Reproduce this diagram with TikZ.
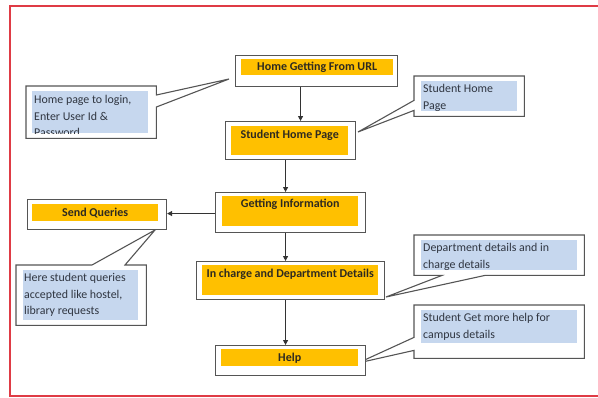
\documentclass[tikz,border=0pt]{standalone}
\usepackage{fontspec}
\setmainfont{Carlito}
\usetikzlibrary{arrows.meta,calc}

\definecolor{frame}{HTML}{DF3B45}
\definecolor{amber}{HTML}{FFC000}
\definecolor{paleblue}{HTML}{C6D7EE}
\definecolor{outline}{HTML}{555555}
\definecolor{ink}{HTML}{2E2A20}
\definecolor{noteink}{HTML}{2F3540}

\tikzset{
  x=1pt, y=-1pt,
  stepbox/.style={draw=outline, line width=1.1pt, fill=white, rectangle,
    anchor=north west, inner sep=0pt},
  amberbar/.style={fill=amber, rectangle, anchor=north west, inner sep=0pt},
  steplabel/.style={font=\fontsize{12}{14}\selectfont\bfseries, text=ink,
    anchor=base, inner sep=0pt},
  shape box/.style={rectangle, anchor=north west, inner sep=0pt},
  callout/.style={draw=outline, line width=1.1pt, fill=white, line join=miter},
  notefill/.style={fill=paleblue, rectangle, anchor=north west, inner sep=0pt},
  notetext/.style={font=\fontsize{11.9}{16.6}\selectfont, text=noteink,
    anchor=north west, align=left, inner sep=0pt},
  arr/.style={draw=black!80, line width=1pt,
    -{Triangle[length=5pt,width=5pt]}},
}

\begin{document}
\begin{tikzpicture}
\useasboundingbox (0,0) rectangle (598,397);

% page frame
\draw[frame, line width=1.2pt] (598,6) -- (10,6) -- (10,396) -- (598,396);

% ---- callout outlines (rectangle plus wedge pointer) ----
% login note
\node[shape box, minimum width=130pt, minimum height=52pt] (cLogin) at (26,86) {};
\coordinate (tLogin) at (229,79);
\path[callout] (cLogin.north west) -- (cLogin.north east)
  -- ([yshift=-9pt]cLogin.north east) -- (tLogin)
  -- ([yshift=-21pt]cLogin.north east) -- (cLogin.south east)
  -- (cLogin.south west) -- cycle;

% student home note
\node[shape box, minimum width=110pt, minimum height=40pt] (cHome) at (414,76) {};
\coordinate (tHome) at (358,132);
\path[callout] (cHome.north west) -- (cHome.north east) -- (cHome.south east)
  -- (cHome.south west) -- ([yshift=6pt]cHome.south west) -- (tHome)
  -- ([yshift=16pt]cHome.south west) -- cycle;

% queries note
\node[shape box, minimum width=130pt, minimum height=60pt] (cQuery) at (16,265) {};
\coordinate (tQuery) at (155,230);
\path[callout] (cQuery.north west) -- ([xshift=76pt]cQuery.north west) -- (tQuery)
  -- ([xshift=109pt]cQuery.north west) -- (cQuery.north east)
  -- (cQuery.south east) -- (cQuery.south west) -- cycle;

% department note
\node[shape box, minimum width=170pt, minimum height=40pt] (cDept) at (414,235) {};
\coordinate (tDept) at (386,297);
\path[callout] (cDept.north west) -- (cDept.north east) -- (cDept.south east)
  -- ([xshift=71pt]cDept.south west) -- (tDept)
  -- ([xshift=28pt]cDept.south west) -- (cDept.south west) -- cycle;

% help note
\node[shape box, minimum width=170pt, minimum height=53pt] (cHelp) at (414,305) {};
\coordinate (tHelp) at (358,363);
\path[callout] (cHelp.north west) -- (cHelp.north east) -- (cHelp.south east)
  -- (cHelp.south west) -- ([yshift=8pt]cHelp.south west) -- (tHelp)
  -- ([yshift=21pt]cHelp.south west) -- cycle;

% ---- note contents ----
\node[notefill, minimum width=116pt, minimum height=42pt] (nLogin) at (32,91) {};
\begin{scope}
  \clip (nLogin.north west) rectangle (nLogin.south east);
  \node[notetext] (xLogin) at ([xshift=2pt,yshift=-4pt]nLogin.north west)
    {Home page to login,\\Enter User Id \&\\Password};
\end{scope}

\node[notefill, minimum width=96pt, minimum height=30pt] (nHome) at (421,81) {};
\node[notetext] (xHome) at ([xshift=2pt,yshift=-3pt]nHome.north west)
  {Student Home\\Page};

\node[notefill, minimum width=115pt, minimum height=50pt] (nQuery) at (23,270) {};
\node[notetext] (xQuery) at ([xshift=1pt,yshift=-3pt]nQuery.north west)
  {Here student queries\\accepted like hostel,\\library requests};

\node[notefill, minimum width=156pt, minimum height=30pt] (nDept) at (421,240) {};
\node[notetext] (xDept) at ([xshift=2pt,yshift=-3pt]nDept.north west)
  {Department details and in\\charge details};

\node[notefill, minimum width=156pt, minimum height=33pt] (nHelp) at (421,310) {};
\node[notetext] (xHelp) at ([xshift=2pt,yshift=-3pt]nHelp.north west)
  {Student Get more help for\\campus details};

% ---- process steps ----
\node[stepbox, minimum width=162pt, minimum height=31pt] (url) at (235,55) {};
\node[amberbar, minimum width=152pt, minimum height=16pt] (urlBar) at (241,59) {};
\node[steplabel] (urlText) at ([yshift=-11pt]urlBar.north) {Home Getting From URL};

\node[stepbox, minimum width=130pt, minimum height=38pt] (home) at (225,121) {};
\node[amberbar, minimum width=117pt, minimum height=29pt] (homeBar) at (231,126) {};
\node[steplabel] (homeText) at ([yshift=-12pt]homeBar.north) {Student Home Page};

\node[stepbox, minimum width=150pt, minimum height=40pt] (info) at (215,192) {};
\node[amberbar, minimum width=136pt, minimum height=30pt] (infoBar) at (222,196) {};
\node[steplabel] (infoText) at ([yshift=-11pt]infoBar.north) {Getting Information};

\node[stepbox, minimum width=188pt, minimum height=38pt] (dept) at (196,261) {};
\node[amberbar, minimum width=176pt, minimum height=30pt] (deptBar) at (202,265) {};
\node[steplabel] (deptText) at ([yshift=-12pt]deptBar.north) {In charge and Department Details};

\node[stepbox, minimum width=150pt, minimum height=30pt] (help) at (215,345) {};
\node[amberbar, minimum width=137pt, minimum height=17pt] (helpBar) at (221,349) {};
\node[steplabel] (helpText) at ([yshift=-12pt]helpBar.north) {Help};

\node[stepbox, minimum width=139pt, minimum height=30pt] (query) at (27,199) {};
\node[amberbar, minimum width=126pt, minimum height=17pt] (queryBar) at (32,204) {};
\node[steplabel] (queryText) at ([yshift=-12pt]queryBar.north) {Send Queries};

% ---- flow arrows ----
\draw[arr] ([xshift=-16pt]url.south) -- ([xshift=-16pt]url.south |- home.north);
\draw[arr] ([xshift=-5pt]home.south) -- ([xshift=-5pt]home.south |- info.north);
\draw[arr] ([xshift=-5pt]info.south) -- ([xshift=-5pt]info.south |- dept.north);
\draw[arr] ([xshift=-5pt]dept.south) -- ([xshift=-5pt]dept.south |- help.north);
\draw[arr] ([yshift=-1pt]info.west) -- ([yshift=-1pt]info.west -| query.east);
\end{tikzpicture}
\end{document}
